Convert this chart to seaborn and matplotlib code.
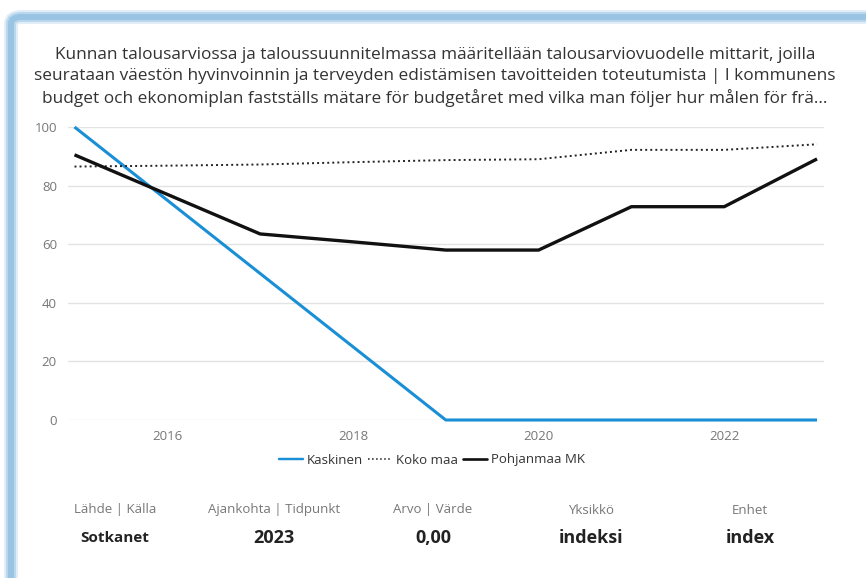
import matplotlib
matplotlib.use("Agg")
import matplotlib.pyplot as plt
import seaborn as sns
import pandas as pd
from matplotlib.patches import FancyBboxPatch
from matplotlib.lines import Line2D

years = [2015, 2016, 2017, 2018, 2019, 2020, 2021, 2022, 2023]
kaskinen = [100, 75, 50, 25, 0, 0, 0, 0, 0]
koko_maa = [86.5, 86.8, 87.2, 88.0, 88.7, 89.0, 92.2, 92.2, 94.1]
pohjanmaa = [90.5, 77, 63.5, 60.8, 58.0, 58.0, 72.8, 72.8, 89.1]
series_names = ["Kaskinen", "Koko maa", "Pohjanmaa MK"]
yticks = [0, 20, 40, 60, 80, 100]
xticks = [2016, 2018, 2020, 2022]

title = ("Kunnan talousarviossa ja taloussuunnitelmassa määritellään talousarviovuodelle mittarit, joilla\n"
         "seurataan väestön hyvinvoinnin ja terveyden edistämisen tavoitteiden toteutumista | I kommunens\n"
         "budget och ekonomiplan fastställs mätare för budgetåret med vilka man följer hur målen för frä...")
info_labels = ["Lähde | Källa", "Ajankohta | Tidpunkt", "Arvo | Värde", "Yksikkö", "Enhet"]
info_values = ["Sotkanet", "2023", "0,00", "indeksi", "index"]

df = pd.DataFrame({
    "year": years * 3,
    "value": kaskinen + koko_maa + pohjanmaa,
    "series": [series_names[0]] * 9 + [series_names[1]] * 9 + [series_names[2]] * 9,
})

sns.set_theme(style="white")
plt.rcParams["font.family"] = ["Open Sans", "DejaVu Sans"]

W, H = 866, 578
fig = plt.figure(figsize=(W / 100, H / 100), dpi=100)
fig.patch.set_facecolor("white")

# card frame with blue glow
for lw, a in [(14, 0.25), (10, 0.45), (6, 0.7)]:
    fig.patches.append(FancyBboxPatch((11 / W, -0.2), 1.2, (578 - 17) / H + 0.2,
                                      boxstyle="round,pad=0,rounding_size=0.012",
                                      transform=fig.transFigure, facecolor="none",
                                      edgecolor="#8dbde0", linewidth=lw * 0.72, alpha=a,
                                      zorder=0))

ax = fig.add_axes([68 / W, 1 - 420 / H, (824 - 68) / W, (420 - 127) / H])
palette = {"Kaskinen": "#1a8fd6", "Koko maa": "#222222", "Pohjanmaa MK": "#111111"}
dashes = {"Kaskinen": "", "Koko maa": (1, 1.6), "Pohjanmaa MK": ""}
sns.lineplot(data=df, x="year", y="value", hue="series", style="series",
             palette=palette, dashes=dashes, ax=ax, legend=False)
widths = {"Kaskinen": 2.2, "Koko maa": 1.4, "Pohjanmaa MK": 2.4}
for line, name in zip(ax.get_lines(), series_names):
    line.set_linewidth(widths[name])
    line.set_clip_on(False)
    line.set_solid_capstyle("butt")

ax.set_xlim(2014.93, 2023.075)
ax.set_ylim(0, 100)
ax.set_yticks(yticks)
ax.set_xticks(xticks)
ax.set_xticklabels([str(x) for x in xticks])
ax.set_yticklabels([str(y) for y in yticks])
ax.tick_params(axis="both", length=0, labelsize=9.5, labelcolor="#777777")
ax.tick_params(axis="y", pad=8)
ax.tick_params(axis="x", pad=7)
ax.grid(axis="y", color="#e3e3e3", linewidth=1)
ax.grid(axis="x", visible=False)
for s in ax.spines.values():
    s.set_visible(False)
ax.set_xlabel("")
ax.set_ylabel("")

fig.text(435 / W, 1 - 77 / H, title, ha="center", va="center", fontsize=12.4,
         color="#333333", linespacing=1.42)

handles = [Line2D([], [], color=palette[n], linewidth=widths[n] * 0.8,
                  linestyle=(0, dashes[n]) if dashes[n] else "-") for n in series_names]
fig.legend(handles, series_names, loc="center", bbox_to_anchor=(432 / W, 1 - 460 / H),
           ncol=3, frameon=False, fontsize=9.5, handlelength=1.8, handletextpad=0.3,
           columnspacing=0.4, labelcolor="#333333")

cols = [115, 274, 433, 591, 750]
for x, lab, val in zip(cols, info_labels, info_values):
    fig.text(x / W, 1 - 510 / H, lab, ha="center", va="center", fontsize=9.5, color="#777777")
    fig.text(x / W, 1 - 538 / H, val, ha="center", va="center", fontsize=11 if val == "Sotkanet" else 13,
             fontweight="bold", color="#222222")

fig.savefig("out.png", dpi=100, facecolor="white")
